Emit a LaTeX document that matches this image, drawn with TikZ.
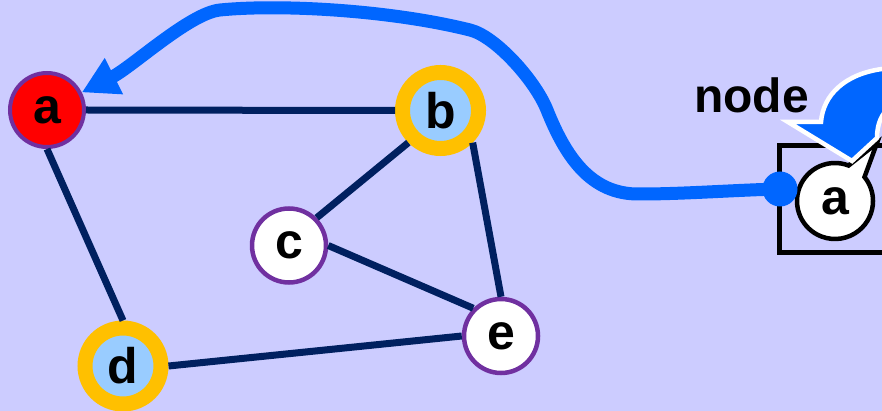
\documentclass[tikz,border=0pt]{standalone}
\usepackage{fontspec}
\setmainfont{Liberation Sans}
\usetikzlibrary{arrows.meta,shapes.callouts}

\definecolor{paper}{HTML}{CCCCFF}
\definecolor{rim}{HTML}{7030A0}
\definecolor{gold}{HTML}{FFC000}
\definecolor{paleblue}{HTML}{99CCFF}
\definecolor{navy}{HTML}{002060}
\definecolor{vivid}{HTML}{0066FF}

\newcommand\vlabelfont{\bfseries\fontsize{50}{50}\selectfont}

\begin{document}
\begin{tikzpicture}[x=1pt,y=-1pt,
  vertex/.style={circle, inner sep=0pt, font=\vlabelfont},
  plainv/.style={vertex, draw=rim, line width=4.5pt, fill=white, minimum size=74pt},
  startv/.style={plainv, fill=red, line width=4pt},
  markedv/.style={vertex, draw=gold, line width=15pt, fill=paleblue, minimum size=76pt},
  graphedge/.style={draw=navy, line width=7pt},
  pointer/.style={vivid, line width=13pt, -{Triangle[length=36pt,width=38pt]}}]

\useasboundingbox (0,0) rectangle (882,411);
\clip (0,0) rectangle (882,411);
\fill[paper] (0,0) rectangle (882,411);

% graph vertices
\node[startv]  (a) at (47,110)    {a};
\node[markedv] (b) at (440.5,110.5) {b};
\node[plainv]  (c) at (289,245.5) {c};
\node[markedv] (d) at (123,366)   {d};
\node[plainv]  (e) at (501,336)   {e};

% graph edges
\draw[graphedge] (a.east) -- (b.west);
\draw[graphedge] (a.south) -- (d.north);
\draw[graphedge] (b.south west) -- (c.north east);
\draw[graphedge] (b.south east) -- (e.north);
\draw[graphedge] (c.east) -- (e.north west);
\draw[graphedge] (d.east) -- (e.west);

% framed node on the right
\draw[line width=5pt] (779,146) rectangle (905,253);
\node[ellipse callout, draw=black, fill=white, line width=4.5pt, inner sep=0pt,
      minimum size=76pt, callout absolute pointer={(877,143)},
      callout pointer arc=30, font=\vlabelfont] (inner) at (835,201) {a};
\node[anchor=base west, inner sep=0pt, font=\bfseries\fontsize{48}{48}\selectfont]
  (lbl) at (694,113) {node};

% connector from the frame back to vertex a
\node[circle, fill=vivid, inner sep=0pt, minimum size=35pt] (dot) at (780,189) {};
\draw[pointer] (dot.center)
  .. controls (735,190) and (685,194) .. (640,194)
  .. controls (590,195) and (565,155) .. (547,110)
  .. controls (535,80) and (495,36) .. (470,30)
  .. controls (390,10) and (280,4) .. (220,10)
  .. controls (190,13) and (132,67) .. (a);

% big curved arrow pointing down at the framed node
\draw[fill=vivid, draw=white, line width=4.5pt, line join=miter]
  (788,122) -- (821,122)
  .. controls (823,95) and (845,74) .. (882,69) -- (930,66) -- (930,95)
  .. controls (895,96) and (877,110) .. (877,138) -- (852,161) -- cycle;
\end{tikzpicture}
\end{document}
